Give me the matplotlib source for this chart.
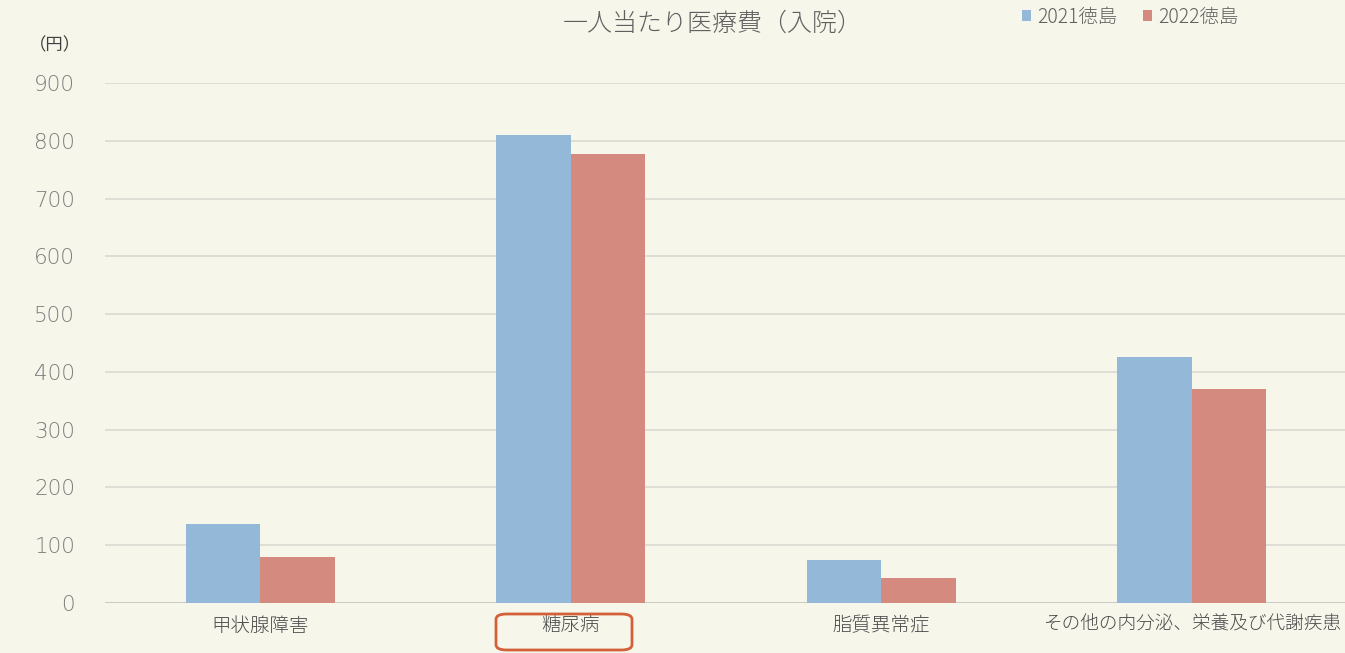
import matplotlib
matplotlib.use("Agg")
import matplotlib.pyplot as plt
from matplotlib.patches import FancyBboxPatch
import numpy as np

plt.rcParams['font.family'] = ['Noto Sans CJK JP', 'DejaVu Sans']

categories = ["甲状腺障害", "糖尿病", "脂質異常症", "その他の内分泌、栄養及び代謝疾患"]
series_names = ["2021徳島", "2022徳島"]
values_2021 = [136, 810, 74, 425]
values_2022 = [80, 777, 44, 371]
y_ticks = [0, 100, 200, 300, 400, 500, 600, 700, 800, 900]

bg = "#F6F6EB"
blue = "#94B8D8"
red = "#D48A7E"

fig = plt.figure(figsize=(13.45, 6.53), dpi=100, facecolor=bg)
ax = fig.add_axes([105/1345, 1-603/653, (1347-105)/1345, (603-83)/653])
ax.set_facecolor(bg)

x = np.arange(len(categories))
w = 0.24
ax.bar(x - w/2, values_2021, w, color=blue, label=series_names[0], zorder=3)
ax.bar(x + w/2, values_2022, w, color=red, label=series_names[1], zorder=3)

ax.set_xlim(-0.5, 3.5)
ax.set_ylim(0, 900)
ax.set_yticks(y_ticks)
ax.set_yticklabels([str(t) for t in y_ticks], fontsize=15.5, color="#7c7c7c",
                   family=['DejaVu Sans'], fontweight='light')
ax.yaxis.grid(True, color="#DADAD2", linewidth=1.2, zorder=0)
ax.set_axisbelow(True)
ax.tick_params(axis='y', length=0, pad=21.5)
ax.tick_params(axis='x', length=0, pad=9)
ax.set_xticks(x)
ax.set_xticklabels(categories, fontsize=14, color="#4a4a4a", fontweight='light')
lbls = ax.get_xticklabels()
lbls[-1].set_fontsize(13.4)
for s in ax.spines.values():
    s.set_visible(False)
ax.axhline(0, color="#C8C8C0", linewidth=1.2, zorder=2)

fig.text(713/1345, 1-23/653, "一人当たり医療費（入院）", ha="center", va="center",
         fontsize=18, color="#606060", fontweight='light')
fig.text(55/1345, 1-45/653, "（円）", ha="center", va="center", fontsize=12.5, color="#404040")

leg = fig.legend(loc="center left", bbox_to_anchor=(1004/1345, 1-17/653), ncol=2,
                 frameon=False, handlelength=0.5, handleheight=0.5,
                 handletextpad=0.3, columnspacing=1.3, labelcolor="#606060",
                 prop={'weight': 'light', 'size': 14})

box = FancyBboxPatch((496/1345, 1-650/653), (632-496)/1345, (650-614)/653,
                     boxstyle="round,pad=0,rounding_size=0.008",
                     transform=fig.transFigure, fill=False, edgecolor="#D4603A",
                     linewidth=2, zorder=10)
fig.patches.append(box)

fig.savefig("out.png", dpi=100, facecolor=bg)
